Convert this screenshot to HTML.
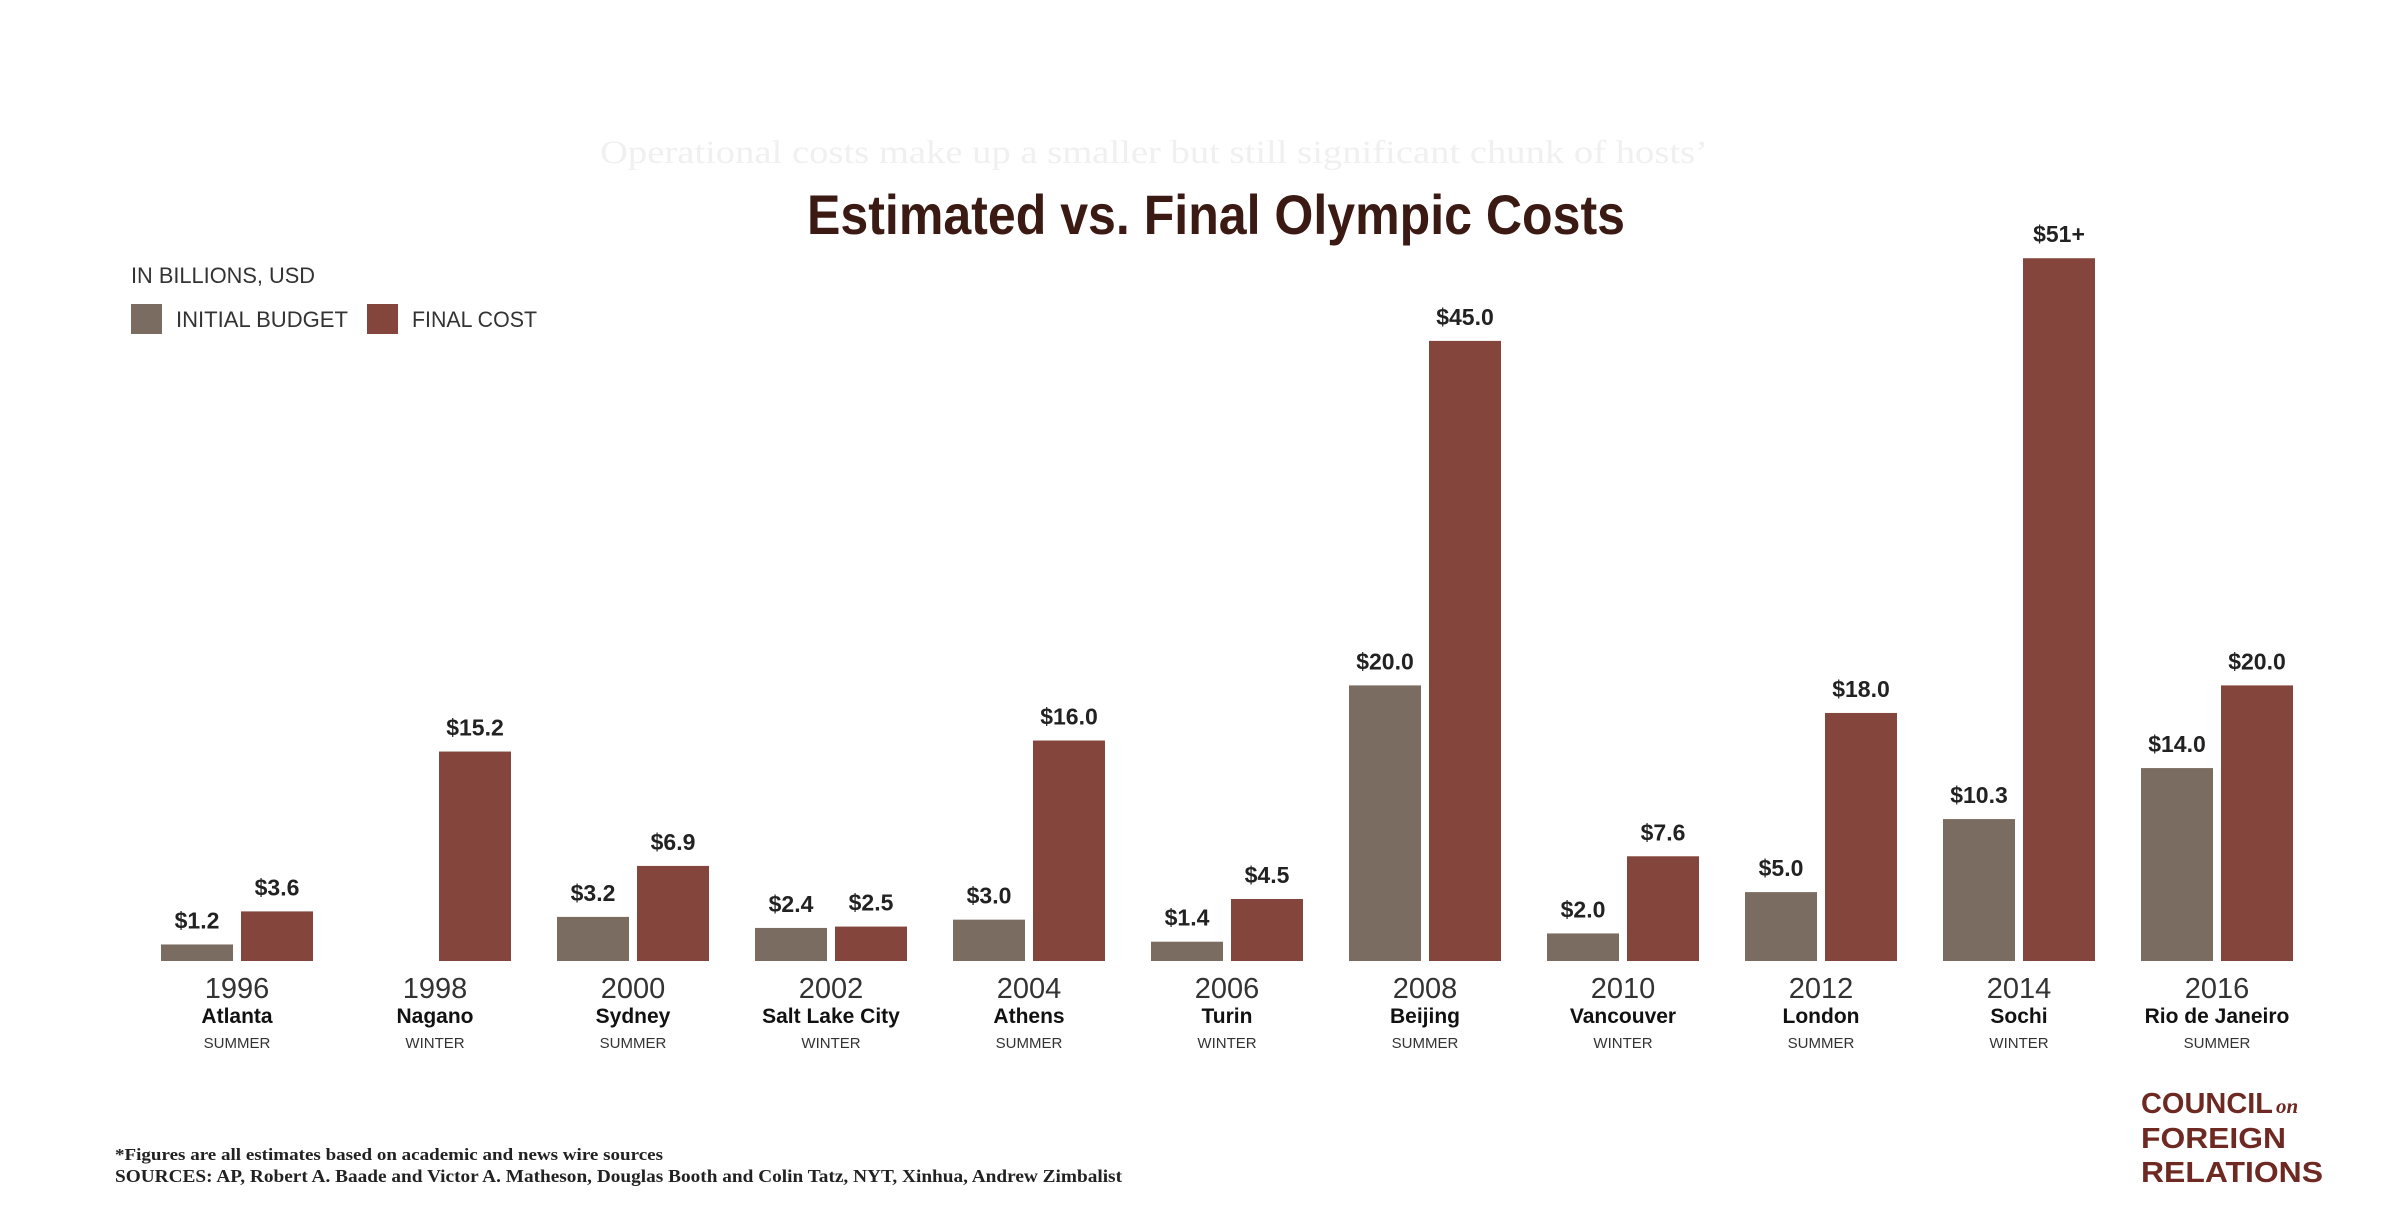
<!DOCTYPE html>
<html><head><meta charset="utf-8"><style>
html,body{margin:0;padding:0;background:#fff;}
svg{display:block;font-family:"Liberation Sans",sans-serif;}
</style></head><body>
<svg id="chart" width="2383" height="1223" viewBox="0 0 2383 1223" xmlns="http://www.w3.org/2000/svg">
<text x="600" y="163" font-family="Liberation Serif, serif" font-size="33" fill="#f0f0f0" textLength="1108" lengthAdjust="spacingAndGlyphs">Operational costs make up a smaller but still significant chunk of hosts’</text>
<text x="807" y="234" font-size="56" font-weight="bold" fill="#3b1a14" textLength="818" lengthAdjust="spacingAndGlyphs">Estimated vs. Final Olympic Costs</text>
<text x="131" y="283" font-size="22" fill="#333" textLength="184" lengthAdjust="spacingAndGlyphs">IN BILLIONS, USD</text>
<g>
<rect x="131" y="304" width="31" height="30" fill="#7b6c61"/>
<text x="176" y="327" font-size="22" fill="#333" textLength="172" lengthAdjust="spacingAndGlyphs">INITIAL BUDGET</text>
<rect x="367" y="304" width="31" height="30" fill="#84463c"/>
<text x="412" y="327" font-size="22" fill="#333" textLength="125" lengthAdjust="spacingAndGlyphs">FINAL COST</text>
</g>
<g id="bars"></g>
<g id="labels"></g>
<text x="115" y="1160" font-family="Liberation Serif, serif" font-size="17" font-weight="bold" fill="#222" textLength="548" lengthAdjust="spacingAndGlyphs">*Figures are all estimates based on academic and news wire sources</text>
<text x="115" y="1182" font-family="Liberation Serif, serif" font-size="18" font-weight="bold" fill="#222" textLength="1007" lengthAdjust="spacingAndGlyphs">SOURCES: AP, Robert A. Baade and Victor A. Matheson, Douglas Booth and Colin Tatz, NYT, Xinhua, Andrew Zimbalist</text>
<g fill="#6e2a22" font-weight="bold" font-size="29">
<text x="2141" y="1113" textLength="132" lengthAdjust="spacingAndGlyphs">COUNCIL</text>
<text x="2276" y="1113" font-family="Liberation Serif, serif" font-style="italic" font-size="21">on</text>
<text x="2141" y="1148" textLength="145" lengthAdjust="spacingAndGlyphs">FOREIGN</text>
<text x="2141" y="1182" textLength="182" lengthAdjust="spacingAndGlyphs">RELATIONS</text>
</g>
</svg>
<script>
const years = ["1996","1998","2000","2002","2004","2006","2008","2010","2012","2014","2016"];
const cities = ["Atlanta","Nagano","Sydney","Salt Lake City","Athens","Turin","Beijing","Vancouver","London","Sochi","Rio de Janeiro"];
const seasons = ["SUMMER","WINTER","SUMMER","WINTER","SUMMER","WINTER","SUMMER","WINTER","SUMMER","WINTER","SUMMER"];
const initialBudget = [1.2, null, 3.2, 2.4, 3.0, 1.4, 20.0, 2.0, 5.0, 10.3, 14.0];
const finalCost = [3.6, 15.2, 6.9, 2.5, 16.0, 4.5, 45.0, 7.6, 18.0, 51, 20.0];
const initialLabels = ["$1.2", "", "$3.2", "$2.4", "$3.0", "$1.4", "$20.0", "$2.0", "$5.0", "$10.3", "$14.0"];
const finalLabels = ["$3.6", "$15.2", "$6.9", "$2.5", "$16.0", "$4.5", "$45.0", "$7.6", "$18.0", "$51+", "$20.0"];

const NS = "http://www.w3.org/2000/svg";
const baseY = 961, pxPer = 13.78, firstCenter = 237, step = 198, bw = 72, gap = 8;
function yScale(v){ return baseY - v * pxPer; }
function xCenter(i){ return firstCenter + i * step; }
const bars = document.getElementById("bars");
const labels = document.getElementById("labels");
function mk(tag, attrs, parent){ const e = document.createElementNS(NS, tag); for (const k in attrs) e.setAttribute(k, attrs[k]); parent.appendChild(e); return e; }
years.forEach((yr, i) => {
  const c = xCenter(i);
  const series = [[initialBudget[i], initialLabels[i], c - gap/2 - bw, "#7b6c61", "initial"], [finalCost[i], finalLabels[i], c + gap/2, "#84463c", "final"]];
  series.forEach(([v, lab, x, col, nm]) => {
    if (v == null) return;
    const r = mk("rect", {x: x, y: yScale(v), width: bw, height: v * pxPer, fill: col}, bars);
    
    
    const t = mk("text", {x: x + bw/2, y: yScale(v) - 16, "text-anchor": "middle", "font-size": 23, "font-weight": "bold", fill: "#222"}, bars);
    t.textContent = lab;
    
    
  });
  const ty = mk("text", {x: c, y: 998, "text-anchor": "middle", "font-size": 29, fill: "#333"}, labels);
  ty.textContent = yr;
  
  
  const tc = mk("text", {x: c, y: 1023, "text-anchor": "middle", "font-size": 21, "font-weight": "bold", fill: "#111"}, labels);
  tc.textContent = cities[i];
  
  
  const ts = mk("text", {x: c, y: 1048, "text-anchor": "middle", "font-size": 15, fill: "#333"}, labels);
  ts.textContent = seasons[i];
  
  
});
</script>
</body></html>
